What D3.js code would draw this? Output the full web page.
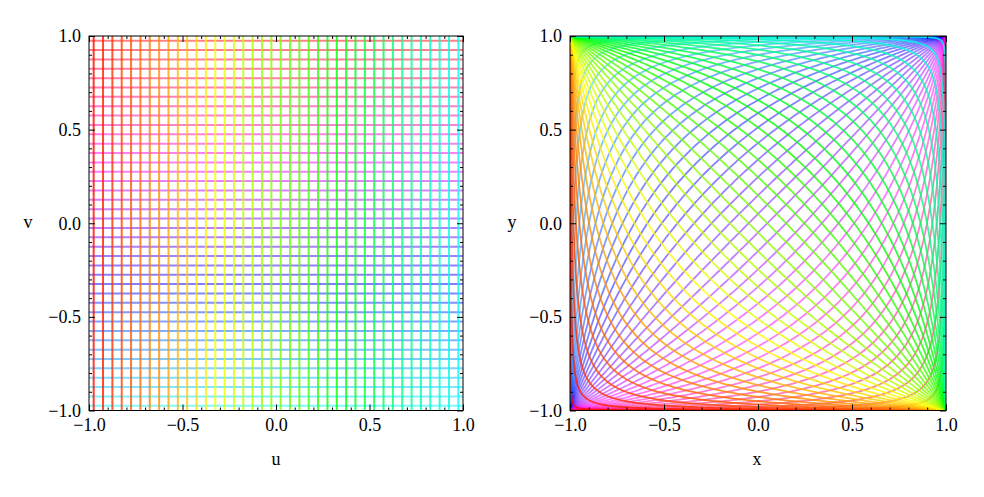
<!DOCTYPE html>
<html>
<head>
<meta charset="utf-8">
<script src="https://cdn.jsdelivr.net/npm/d3@7"></script>
<style>
  html, body { margin: 0; padding: 0; background: #fff; }
  svg { display: block; }
  text { font-family: "Liberation Serif", "Times New Roman", serif; fill: #000; }
</style>
</head>
<body>
<svg id="chart" width="984" height="497"></svg>
<script>
// Grid parameter values (u lines and v lines)
const uValues = [-0.975,-0.925,-0.875,-0.825,-0.775,-0.725,-0.675,-0.625,-0.575,-0.525,
                 -0.475,-0.425,-0.375,-0.325,-0.275,-0.225,-0.175,-0.125,-0.075,-0.025,
                  0.025, 0.075, 0.125, 0.175, 0.225, 0.275, 0.325, 0.375, 0.425, 0.475,
                  0.525, 0.575, 0.625, 0.675, 0.725, 0.775, 0.825, 0.875, 0.925, 0.975];
const vValues = [-0.975,-0.925,-0.875,-0.825,-0.775,-0.725,-0.675,-0.625,-0.575,-0.525,
                 -0.475,-0.425,-0.375,-0.325,-0.275,-0.225,-0.175,-0.125,-0.075,-0.025,
                  0.025, 0.075, 0.125, 0.175, 0.225, 0.275, 0.325, 0.375, 0.425, 0.475,
                  0.525, 0.575, 0.625, 0.675, 0.725, 0.775, 0.825, 0.875, 0.925, 0.975];
const majorTicks = [-1, -0.5, 0, 0.5, 1];
const minorTicks = [-0.9,-0.8,-0.7,-0.6,-0.4,-0.3,-0.2,-0.1,0.1,0.2,0.3,0.4,0.6,0.7,0.8,0.9];
const panelLabels = [["u","v"],["x","y"]];

const svg = d3.select("#chart");
const fmt = d3.format(".1f");

const panels = [
  {x0: 89, x1: 463, y0: 410.5, y1: 36, labx: 276, laby: 28},
  {x0: 570, x1: 946, y0: 410.5, y1: 36, labx: 757, laby: 512}
];

const uColor = u => d3.hsl((u + 1) / 4 * 360, 1, 0.5).toString();
const vColor = v => d3.hsl((0.5 + (v + 1) / 4) * 360, 1, 0.5).toString();

// map (u,v) -> (x,y)
const mapXY = (u, v) => [(u + v) / (1 + u * v), (u - v) / (1 - u * v)];

panels.forEach((p, i) => {
  const x = d3.scaleLinear().domain([-1, 1]).range([p.x0, p.x1]);
  const y = d3.scaleLinear().domain([-1, 1]).range([p.y0, p.y1]);
  const g = svg.append("g");

  const clipId = "clip" + i;
  svg.append("clipPath").attr("id", clipId).append("rect")
    .attr("x", p.x0).attr("y", p.y1).attr("width", p.x1 - p.x0).attr("height", p.y0 - p.y1);
  const plot = g.append("g").attr("clip-path", `url(#${clipId})`);
  const line = d3.line().x(d => x(d[0])).y(d => y(d[1]));

  if (i === 0) {
    // horizontal (v) lines, then vertical (u) lines
    plot.selectAll(".vl").data(vValues).join("line")
      .attr("x1", x(-1)).attr("x2", x(1))
      .attr("y1", d => y(d)).attr("y2", d => y(d))
      .attr("stroke", d => vColor(d)).attr("stroke-opacity", 0.5).attr("stroke-width", 2);
    plot.selectAll(".ul").data(uValues).join("line")
      .attr("y1", y(-1)).attr("y2", y(1))
      .attr("x1", d => x(d)).attr("x2", d => x(d))
      .attr("stroke", d => uColor(d)).attr("stroke-opacity", 0.8).attr("stroke-width", 2);
  } else {
    const tGrid = d3.range(-9, 9.0001, 0.02);
    const vCurve = v => [[-1, -1]].concat(tGrid.map(s => mapXY(Math.tanh(s), v))).concat([[1, 1]]);
    const uCurve = u => [[-1, 1]].concat(tGrid.map(t => mapXY(u, Math.tanh(t)))).concat([[1, -1]]);
    plot.selectAll(".vc").data(vValues).join("path")
      .attr("d", d => line(vCurve(d)))
      .attr("fill", "none").attr("stroke", d => vColor(d))
      .attr("stroke-opacity", 0.5).attr("stroke-width", 1.8);
    plot.selectAll(".uc").data(uValues).join("path")
      .attr("d", d => line(uCurve(d)))
      .attr("fill", "none").attr("stroke", d => uColor(d))
      .attr("stroke-opacity", 0.8).attr("stroke-width", 1.8);
  }

  // frame
  g.append("rect").attr("x", p.x0).attr("y", p.y1)
    .attr("width", p.x1 - p.x0).attr("height", p.y0 - p.y1)
    .attr("fill", "none").attr("stroke", "#000").attr("stroke-width", 1);

  const styleAxis = sel => {
    sel.select(".domain").remove();
    sel.selectAll(".tick line").attr("stroke", "#000").attr("stroke-width", 1);
  };
  // bottom
  g.append("g").attr("transform", `translate(0,${p.y0})`)
    .call(d3.axisBottom(x).tickValues(majorTicks).tickSizeInner(-6).tickSizeOuter(0).tickPadding(8).tickFormat(fmt))
    .call(styleAxis)
    .call(s => s.selectAll("text").attr("font-size", 18).attr("font-family", "Liberation Serif").attr("fill", "#000"));
  g.append("g").attr("transform", `translate(0,${p.y0})`)
    .call(d3.axisBottom(x).tickValues(minorTicks).tickSizeInner(-3).tickSizeOuter(0).tickFormat(""))
    .call(styleAxis);
  // top
  g.append("g").attr("transform", `translate(0,${p.y1})`)
    .call(d3.axisTop(x).tickValues(majorTicks).tickSizeInner(-6).tickSizeOuter(0).tickFormat(""))
    .call(styleAxis);
  g.append("g").attr("transform", `translate(0,${p.y1})`)
    .call(d3.axisTop(x).tickValues(minorTicks).tickSizeInner(-3).tickSizeOuter(0).tickFormat(""))
    .call(styleAxis);
  // left
  g.append("g").attr("transform", `translate(${p.x0},0)`)
    .call(d3.axisLeft(y).tickValues(majorTicks).tickSizeInner(-6).tickSizeOuter(0).tickPadding(8).tickFormat(fmt))
    .call(styleAxis)
    .call(s => s.selectAll("text").attr("font-size", 18).attr("font-family", "Liberation Serif").attr("fill", "#000"));
  g.append("g").attr("transform", `translate(${p.x0},0)`)
    .call(d3.axisLeft(y).tickValues(minorTicks).tickSizeInner(-3).tickSizeOuter(0).tickFormat(""))
    .call(styleAxis);
  // right
  g.append("g").attr("transform", `translate(${p.x1},0)`)
    .call(d3.axisRight(y).tickValues(majorTicks).tickSizeInner(-6).tickSizeOuter(0).tickFormat(""))
    .call(styleAxis);
  g.append("g").attr("transform", `translate(${p.x1},0)`)
    .call(d3.axisRight(y).tickValues(minorTicks).tickSizeInner(-3).tickSizeOuter(0).tickFormat(""))
    .call(styleAxis);

  // axis titles
  g.append("text").attr("x", p.labx).attr("y", 465).attr("text-anchor", "middle")
    .attr("font-size", 18).text(panelLabels[i][0]);
  g.append("text").attr("x", p.laby).attr("y", (p.y0 + p.y1) / 2 + 5).attr("text-anchor", "middle")
    .attr("font-size", 18).text(panelLabels[i][1]);
});
</script>
</body>
</html>
